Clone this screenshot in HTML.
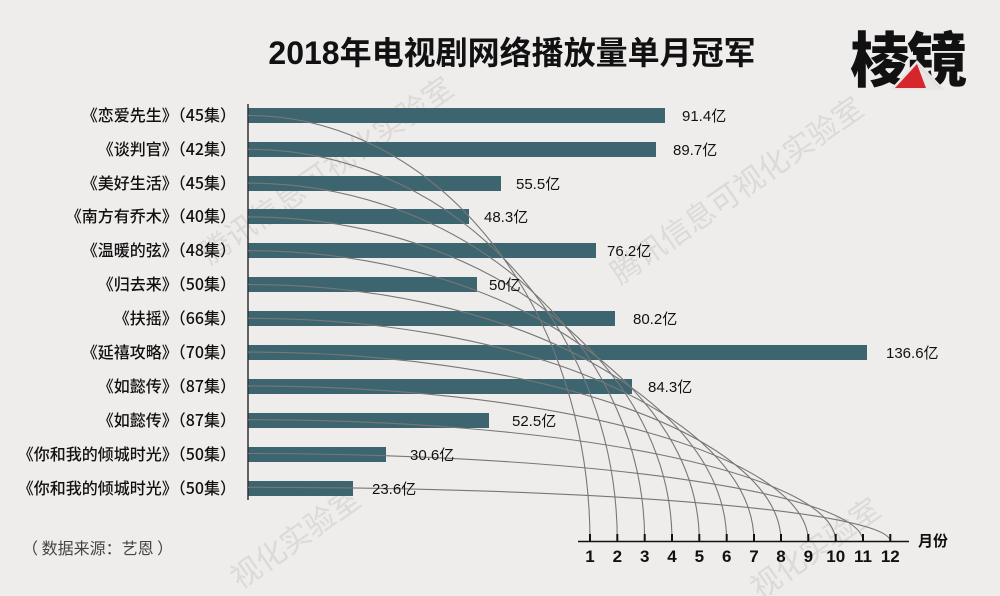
<!DOCTYPE html>
<html><head><meta charset="utf-8"><style>
body{margin:0;background:#efedec;}
svg{display:block;font-family:"Liberation Sans","Noto Sans CJK SC",sans-serif;}
</style></head><body>
<svg width="1000" height="596" viewBox="0 0 1000 596" xmlns="http://www.w3.org/2000/svg">
<rect width="1000" height="596" fill="#efedec"/>
<g fill="#dcd9d7" font-size="30" font-family="Noto Sans CJK SC,sans-serif">
<text transform="translate(210,265) rotate(-35)">腾讯信息可视化实验室</text>
<text transform="translate(620,285) rotate(-35)">腾讯信息可视化实验室</text>
<text transform="translate(240,590) rotate(-35)">视化实验室</text>
<text transform="translate(760,600) rotate(-35)">视化实验室</text>
</g>
<text x="512" y="64" text-anchor="middle" font-size="32" font-weight="bold" fill="#111" font-family="Liberation Sans,Noto Sans CJK SC,sans-serif">2018年电视剧网络播放量单月冠军</text>
<text x="850" y="82" font-size="60" font-weight="900" fill="#111" letter-spacing="-3" font-family="Noto Sans CJK SC,sans-serif">棱镜</text>
<polygon points="917,60 945,90 890,90" fill="#e8e6e5"/>
<polygon points="917,64 940,88 895,88" fill="#d6262b"/>
<polygon points="917,64 940,88 926,88" fill="#e8e6e5"/>
<g fill="#3d6570">
<rect x="248" y="108" width="417" height="15"/>
<rect x="248" y="142" width="408" height="15"/>
<rect x="248" y="176" width="253" height="15"/>
<rect x="248" y="209" width="221" height="15"/>
<rect x="248" y="243" width="348" height="15"/>
<rect x="248" y="277" width="229" height="15"/>
<rect x="248" y="311" width="367" height="15"/>
<rect x="248" y="345" width="619" height="15"/>
<rect x="248" y="379" width="384" height="15"/>
<rect x="248" y="413" width="241" height="15"/>
<rect x="248" y="447" width="138" height="15"/>
<rect x="248" y="481" width="105" height="15"/>
</g>
<line x1="248" y1="104" x2="248" y2="500" stroke="#333" stroke-width="1.5"/>
<g fill="none" stroke="#777" stroke-width="1.1">
<path d="M248,115.5 A342,426 0 0 1 590,541.5"/>
<path d="M248,149.3 A369.3,392 0 0 1 617.3,541.5"/>
<path d="M248,183.1 A396.7,358 0 0 1 644.7,541.5"/>
<path d="M248,216.9 A424,324.6 0 0 1 672,541.5"/>
<path d="M248,250.7 A451.3,290.8 0 0 1 699.3,541.5"/>
<path d="M248,284.5 A478.7,257 0 0 1 726.7,541.5"/>
<path d="M248,318.3 A506,223.2 0 0 1 754,541.5"/>
<path d="M248,352.1 A533,189.4 0 0 1 781,541.5"/>
<path d="M248,385.9 A560.3,155.6 0 0 1 808.3,541.5"/>
<path d="M248,419.7 A587.7,121.8 0 0 1 835.7,541.5"/>
<path d="M248,453.5 A615,88 0 0 1 863,541.5"/>
<path d="M248,487.3 A642.3,54.2 0 0 1 890.3,541.5"/>
</g>
<g font-size="15" fill="#111">
<text x="682" y="121">91.4亿</text>
<text x="673" y="155">89.7亿</text>
<text x="516" y="189">55.5亿</text>
<text x="484" y="222">48.3亿</text>
<text x="607" y="256">76.2亿</text>
<text x="489" y="290">50亿</text>
<text x="633" y="324">80.2亿</text>
<text x="886" y="358">136.6亿</text>
<text x="648" y="392">84.3亿</text>
<text x="512" y="426">52.5亿</text>
<text x="410" y="460">30.6亿</text>
<text x="372" y="494">23.6亿</text>
</g>
<g font-size="16" fill="#111" text-anchor="end" font-family="Noto Sans CJK SC,sans-serif" font-weight="500">
<text x="236" y="121">《恋爱先生》（45集）</text>
<text x="236" y="155">《谈判官》（42集）</text>
<text x="236" y="189">《美好生活》（45集）</text>
<text x="236" y="222">《南方有乔木》（40集）</text>
<text x="236" y="256">《温暖的弦》（48集）</text>
<text x="236" y="290">《归去来》（50集）</text>
<text x="236" y="324">《扶摇》（66集）</text>
<text x="236" y="358">《延禧攻略》（70集）</text>
<text x="236" y="392">《如懿传》（87集）</text>
<text x="236" y="426">《如懿传》（87集）</text>
<text x="236" y="460">《你和我的倾城时光》（50集）</text>
<text x="236" y="494">《你和我的倾城时光》（50集）</text>
</g>
<text x="22" y="554" font-size="16" fill="#444" font-family="Noto Sans CJK SC,sans-serif">（ 数据来源：艺恩 ）</text>
<line x1="578" y1="541.5" x2="909" y2="541.5" stroke="#111" stroke-width="1.5"/>
<g stroke="#111" stroke-width="2">
<line x1="590" y1="534" x2="590" y2="541"/><line x1="617.3" y1="534" x2="617.3" y2="541"/>
<line x1="644.7" y1="534" x2="644.7" y2="541"/><line x1="672" y1="534" x2="672" y2="541"/>
<line x1="699.3" y1="534" x2="699.3" y2="541"/><line x1="726.7" y1="534" x2="726.7" y2="541"/>
<line x1="754" y1="534" x2="754" y2="541"/><line x1="781" y1="534" x2="781" y2="541"/>
<line x1="808.3" y1="534" x2="808.3" y2="541"/><line x1="835.7" y1="534" x2="835.7" y2="541"/>
<line x1="863" y1="534" x2="863" y2="541"/><line x1="890.3" y1="534" x2="890.3" y2="541"/>
</g>
<g font-size="17" font-weight="bold" fill="#111" text-anchor="middle">
<text x="590" y="562">1</text><text x="617.3" y="562">2</text><text x="644.7" y="562">3</text>
<text x="672" y="562">4</text><text x="699.3" y="562">5</text><text x="726.7" y="562">6</text>
<text x="754" y="562">7</text><text x="781" y="562">8</text><text x="808.3" y="562">9</text>
<text x="835.7" y="562">10</text><text x="863" y="562">11</text><text x="890.3" y="562">12</text>
</g>
<text x="918" y="546" font-size="15" font-weight="bold" fill="#111">月份</text>
</svg>
</body></html>
